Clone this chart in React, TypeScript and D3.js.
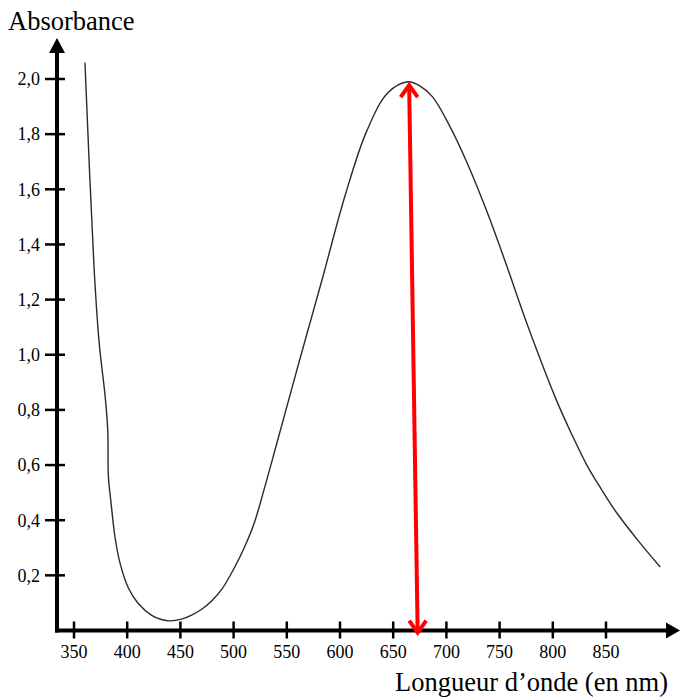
import * as d3 from "d3";
import { useEffect, useRef } from "react";

// wavelength (nm) / absorbance
const wavelengths = [360.3, 368.8, 373.5, 379.5, 381.8, 382.3, 384.8, 388.5, 393.2, 401, 410.4, 423, 432, 440, 451, 460, 470, 480, 489, 500, 510, 519, 530, 540, 562, 583, 605, 625, 645, 664, 675, 687, 703, 719, 738, 756, 776, 804, 818, 832, 846, 860, 880, 901];
const absorbance = [2.06, 1.32, 1.05, 0.84, 0.72, 0.56, 0.463, 0.34, 0.245, 0.155, 0.098, 0.055, 0.04, 0.035, 0.041, 0.055, 0.077, 0.11, 0.15, 0.222, 0.3, 0.385, 0.53, 0.67, 0.98, 1.27, 1.58, 1.81, 1.95, 1.99, 1.975, 1.935, 1.83, 1.7, 1.52, 1.33, 1.11, 0.83, 0.71, 0.6, 0.51, 0.427, 0.327, 0.23];

const xTicks = [350, 400, 450, 500, 550, 600, 650, 700, 750, 800, 850];
const yTicks = [0.2, 0.4, 0.6, 0.8, 1.0, 1.2, 1.4, 1.6, 1.8, 2.0];

// red arrow marking lambda max
const arrowTop = [665, 1.985];
const arrowBottom = [673, -0.015];

const W = 681;
const H = 700;
const font = "'Liberation Serif', 'Times New Roman', serif";

export default function App() {
  const svgRef = useRef<SVGSVGElement>(null);

  useEffect(() => {
    const svg = d3.select(svgRef.current);
    svg.selectAll("*").remove();

    const x = d3.scaleLinear().domain([350, 850]).range([74, 606]);
    const y = d3.scaleLinear().domain([0, 2]).range([630.5, 79]);

    const axisX = 57;
    const axisY = y(0);

    svg.append("rect").attr("width", W).attr("height", H).attr("fill", "#fff");

    // curve
    const pts = wavelengths.map((w, i) => [w, absorbance[i]] as [number, number]);
    const line = d3.line<[number, number]>()
      .x(d => x(d[0]))
      .y(d => y(d[1]))
      .curve(d3.curveCatmullRom.alpha(0.5));
    svg.append("path")
      .attr("d", line(pts))
      .attr("fill", "none")
      .attr("stroke", "#2a2a2a")
      .attr("stroke-width", 1.4);

    // axes
    const ax = svg.append("g");
    ax.append("line")
      .attr("x1", axisX).attr("x2", axisX)
      .attr("y1", axisY + 2).attr("y2", 52)
      .attr("stroke", "#000").attr("stroke-width", 4);
    ax.append("path")
      .attr("d", `M${axisX},38 L${axisX - 8},53 L${axisX + 8},53 Z`)
      .attr("fill", "#000");
    ax.append("line")
      .attr("x1", axisX - 2).attr("x2", 668)
      .attr("y1", axisY).attr("y2", axisY)
      .attr("stroke", "#000").attr("stroke-width", 4);
    ax.append("path")
      .attr("d", `M680,${axisY} L666,${axisY - 8} L666,${axisY + 8} Z`)
      .attr("fill", "#000");

    // x ticks
    const xt = ax.selectAll(".xt").data(xTicks).join("g").attr("class", "xt")
      .attr("transform", d => `translate(${x(d)},${axisY})`);
    xt.append("line").attr("y1", -9).attr("y2", 8).attr("stroke", "#000").attr("stroke-width", 2.5);
    xt.append("text")
      .attr("y", 27)
      .attr("text-anchor", "middle")
      .attr("font-family", font)
      .attr("font-size", 18)
      .text(d => String(d));

    // y ticks
    const yt = ax.selectAll(".yt").data(yTicks).join("g").attr("class", "yt")
      .attr("transform", d => `translate(${axisX},${y(d)})`);
    yt.append("line").attr("x1", -12).attr("x2", 8).attr("stroke", "#000").attr("stroke-width", 2.5);
    yt.append("text")
      .attr("x", -17)
      .attr("dy", "0.35em")
      .attr("text-anchor", "end")
      .attr("font-family", font)
      .attr("font-size", 18)
      .text(d => d.toFixed(1).replace(".", ","));

    // axis titles
    svg.append("text")
      .attr("x", 8).attr("y", 30)
      .attr("font-family", font).attr("font-size", 26.5)
      .text("Absorbance");
    svg.append("text")
      .attr("x", 668).attr("y", 691)
      .attr("text-anchor", "end")
      .attr("font-family", font).attr("font-size", 26.5)
      .text("Longueur d\u2019onde (en nm)");

    // red double arrow
    const x1 = x(arrowTop[0]), y1 = y(arrowTop[1]);
    const x2 = x(arrowBottom[0]), y2 = y(arrowBottom[1]);
    const red = svg.append("g")
      .attr("stroke", "#ff0000").attr("stroke-width", 4)
      .attr("fill", "none").attr("stroke-linecap", "butt");
    red.append("line").attr("x1", x1).attr("y1", y1 + 2).attr("x2", x2).attr("y2", y2 - 2);
    red.append("path").attr("d", `M${x1 - 8.5},${y1 + 14} L${x1},${y1 + 2} L${x1 + 8.5},${y1 + 14}`);
    red.append("path").attr("d", `M${x2 - 8.5},${y2 - 14} L${x2},${y2 - 2} L${x2 + 8.5},${y2 - 14}`);
  }, []);

  return (
    <svg
      ref={svgRef}
      width={W}
      height={H}
      style={{ position: "absolute", left: 0, top: 0, display: "block" }}
    />
  );
}
